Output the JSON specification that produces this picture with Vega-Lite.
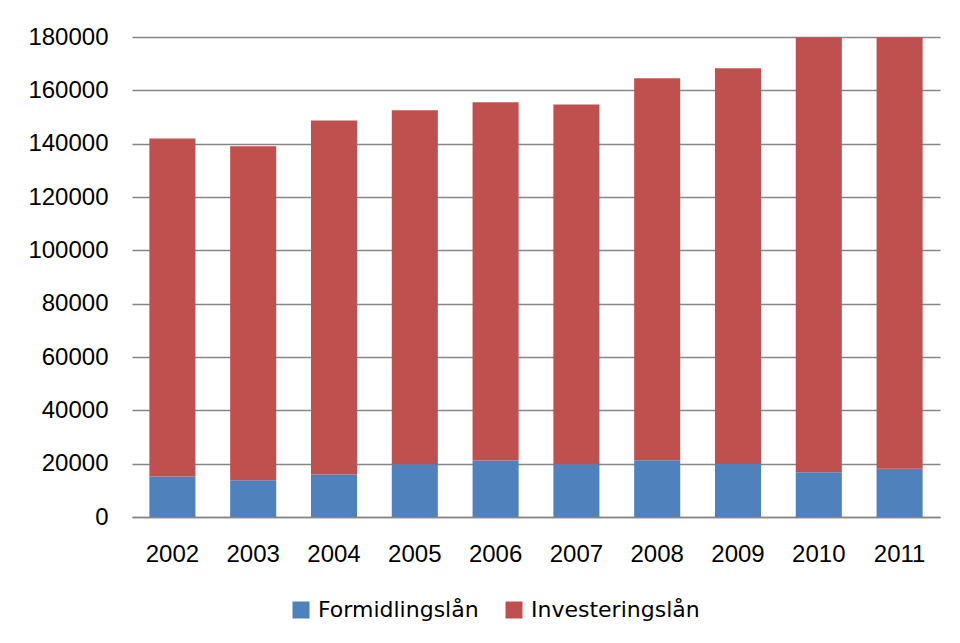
{
  "$schema": "https://vega.github.io/schema/vega-lite/v6.json",
  "width": 808,
  "height": 480,
  "autosize": {"type": "none"},
  "padding": {"left": 132, "top": 37, "right": 20, "bottom": 126},
  "background": "#ffffff",
  "data": {
    "values": [
      {"year": "2002", "serie": "Formidlingslån", "ord": 1, "value": 15150},
      {"year": "2003", "serie": "Formidlingslån", "ord": 1, "value": 13760},
      {"year": "2004", "serie": "Formidlingslån", "ord": 1, "value": 15900},
      {"year": "2005", "serie": "Formidlingslån", "ord": 1, "value": 19750},
      {"year": "2006", "serie": "Formidlingslån", "ord": 1, "value": 21150},
      {"year": "2007", "serie": "Formidlingslån", "ord": 1, "value": 19750},
      {"year": "2008", "serie": "Formidlingslån", "ord": 1, "value": 21260},
      {"year": "2009", "serie": "Formidlingslån", "ord": 1, "value": 19880},
      {"year": "2010", "serie": "Formidlingslån", "ord": 1, "value": 16760},
      {"year": "2011", "serie": "Formidlingslån", "ord": 1, "value": 18140},
      {"year": "2002", "serie": "Investeringslån", "ord": 2, "value": 126750},
      {"year": "2003", "serie": "Investeringslån", "ord": 2, "value": 125240},
      {"year": "2004", "serie": "Investeringslån", "ord": 2, "value": 132750},
      {"year": "2005", "serie": "Investeringslån", "ord": 2, "value": 132750},
      {"year": "2006", "serie": "Investeringslån", "ord": 2, "value": 134350},
      {"year": "2007", "serie": "Investeringslån", "ord": 2, "value": 134900},
      {"year": "2008", "serie": "Investeringslån", "ord": 2, "value": 143240},
      {"year": "2009", "serie": "Investeringslån", "ord": 2, "value": 148380},
      {"year": "2010", "serie": "Investeringslån", "ord": 2, "value": 163140},
      {"year": "2011", "serie": "Investeringslån", "ord": 2, "value": 161760}
    ]
  },
  "mark": {"type": "bar"},
  "encoding": {
    "x": {
      "field": "year",
      "type": "ordinal",
      "scale": {"paddingInner": 0.43, "paddingOuter": 0.215},
      "axis": {
        "title": null,
        "labelAngle": 0,
        "labelFont": "Liberation Sans",
        "labelFontSize": 24,
        "labelColor": "#000000",
        "labelPadding": 25,
        "ticks": false,
        "domain": true,
        "domainColor": "#868686",
        "domainWidth": 1.7,
        "grid": false
      }
    },
    "y": {
      "field": "value",
      "type": "quantitative",
      "stack": "zero",
      "scale": {"domain": [0, 180000], "nice": false},
      "axis": {
        "title": null,
        "values": [0, 20000, 40000, 60000, 80000, 100000, 120000, 140000, 160000, 180000],
        "format": "d",
        "labelFont": "Liberation Sans",
        "labelFontSize": 24,
        "labelColor": "#000000",
        "labelPadding": 24,
        "ticks": false,
        "domain": false,
        "grid": true,
        "gridColor": "#868686",
        "gridWidth": 1.7
      }
    },
    "order": {"field": "ord", "type": "quantitative", "sort": "ascending"},
    "color": {
      "field": "serie",
      "type": "nominal",
      "scale": {
        "domain": ["Formidlingslån", "Investeringslån"],
        "range": ["#4F81BD", "#C0504D"]
      },
      "legend": {
        "title": null,
        "orient": "none",
        "direction": "horizontal",
        "legendX": 158,
        "legendY": 562,
        "symbolType": "square",
        "symbolSize": 289,
        "symbolStrokeWidth": 0,
        "symbolOpacity": 1,
        "labelFont": "DejaVu Sans",
        "labelFontSize": 22,
        "labelColor": "#000000",
        "labelOffset": 6,
        "columnPadding": 24,
        "labelLimit": 300
      }
    }
  },
  "config": {
    "view": {"stroke": null}
  }
}
